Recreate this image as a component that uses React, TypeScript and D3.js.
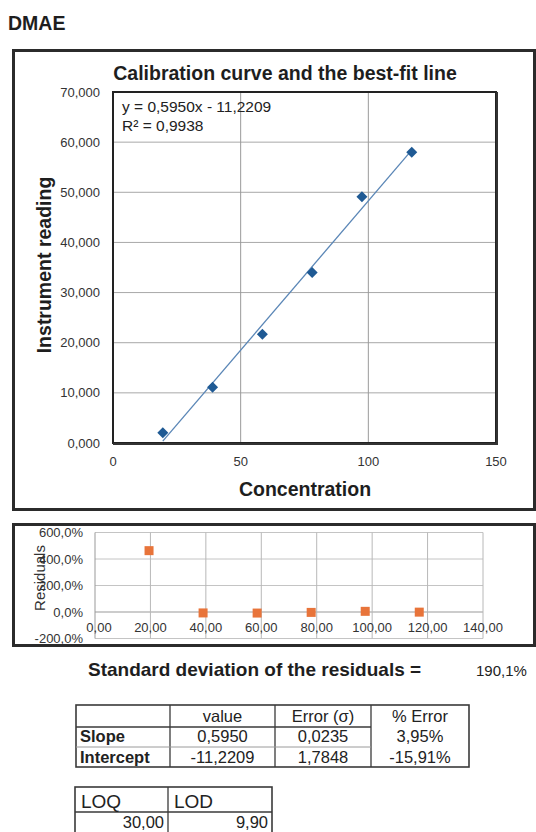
import React from "react";
import * as d3 from "d3";

// Calibration data for DMAE
const concentration = [19.5, 39, 58.5, 78, 97.5, 117];
const reading = [2.05, 11.1, 21.7, 34.0, 49.1, 58.0];
const residualPct = [463, -7, -8, -3, 5, -1];

// Least-squares fit results
const slope = 0.595;
const intercept = -11.2209;
const rSquared = 0.9938;

// Axis ticks
const readingTicks = [0, 10, 20, 30, 40, 50, 60, 70];
const concTicks = [0, 50, 100, 150];
const residualTicks = [-200, 0, 200, 400, 600];
const residualConcTicks = [0, 20, 40, 60, 80, 100, 120, 140];

// Summary tables
const stdResidual = "190,1%";
const fitHeader = ["", "value", "Error (σ)", "% Error"];
const fitLabels = ["Slope", "Intercept"];
const fitValues = ["0,5950", "-11,2209"];
const fitErrors = ["0,0235", "1,7848"];
const fitPctErrors = ["3,95%", "-15,91%"];
const limitHeader = ["LOQ", "LOD"];
const limitValues = ["30,00", "9,90"];

const locale = d3.formatLocale({
  decimal: ",",
  thousands: ".",
  grouping: [3],
  currency: ["", ""],
  minus: "-",
});
const f3 = locale.format(".3f");
const f4 = locale.format(".4f");
const f1 = locale.format(".1f");
const f2 = locale.format(".2f");

const FONT = "'Liberation Sans', Arial, Helvetica, sans-serif";
const INK = "#1e1e1e";

export default function App() {
  // main calibration plot
  const x = d3.scaleLinear().domain([0, 150]).range([113, 496]);
  const y = d3.scaleLinear().domain([0, 70]).range([443, 92]);
  // residual plot
  const rx = d3.scaleLinear().domain([0, 140]).range([95, 483]);
  const ry = d3.scaleLinear().domain([-200, 600]).range([638.5, 532.5]);

  const fitLine = d3
    .line<number>()
    .x((c) => x(c))
    .y((c) => y(slope * c + intercept));
  const lineX = [concentration[0], concentration[concentration.length - 1]];

  const diamond = (cx: number, cy: number, r: number) =>
    `M${cx},${cy - r}L${cx + r},${cy}L${cx},${cy + r}L${cx - r},${cy}Z`;

  const tCols = [76, 170, 275, 371, 469];
  const tRows = [705, 727, 747, 767];
  const lCols = [75, 168, 272];
  const lRows = [787, 812, 845];

  return (
    <div style={{ position: "absolute", left: 0, top: 0 }}>
      <svg width={536} height={832} style={{ display: "block", background: "#fff" }} fontFamily={FONT}>
        <text x={8} y={30} fontSize={19.5} fontWeight="bold" fill={INK}>DMAE</text>

        {/* calibration chart frame */}
        <rect x={13.5} y={50.5} width={521} height={459} fill="#fff" stroke="#2b2b2b" strokeWidth={3} />
        <text x={285} y={80} fontSize={19.5} fontWeight="bold" textAnchor="middle" fill={INK}>
          Calibration curve and the best-fit line
        </text>

        {/* gridlines */}
        {readingTicks.slice(1, -1).map((t) => (
          <line key={"hg" + t} x1={x(0)} x2={x(150)} y1={y(t)} y2={y(t)} stroke="#a8a8a8" strokeWidth={1} />
        ))}
        {concTicks.slice(1, -1).map((t) => (
          <line key={"vg" + t} x1={x(t)} x2={x(t)} y1={y(70)} y2={y(0)} stroke="#9a9a9a" strokeWidth={1} />
        ))}
        <rect x={x(0)} y={y(70)} width={x(150) - x(0)} height={y(0) - y(70)} fill="none" stroke="#222" strokeWidth={2} />
        <line x1={x(0)} x2={x(150) + 1.5} y1={y(0) + 1} y2={y(0) + 1} stroke="#333" strokeWidth={2} />
        <line x1={x(150) + 1} x2={x(150) + 1} y1={y(70)} y2={y(0) + 2} stroke="#333" strokeWidth={2} />

        {/* axis tick labels */}
        {readingTicks.map((t) => (
          <text key={"yl" + t} x={100} y={y(t) + 4.5} fontSize={13} textAnchor="end" fill="#333">
            {f3(t)}
          </text>
        ))}
        {concTicks.map((t) => (
          <text key={"xl" + t} x={x(t)} y={466} fontSize={13} textAnchor="middle" fill="#333">
            {t}
          </text>
        ))}
        <text x={305} y={496} fontSize={19.5} fontWeight="bold" textAnchor="middle" fill={INK}>
          Concentration
        </text>
        <text transform={`translate(51,265) rotate(-90)`} fontSize={19.5} fontWeight="bold" textAnchor="middle" fill={INK}>
          Instrument reading
        </text>

        {/* best-fit line and data */}
        <path d={fitLine(lineX) || ""} fill="none" stroke="#5a86b6" strokeWidth={1.3} />
        {concentration.map((c, i) => (
          <path key={"pt" + i} d={diamond(x(c), y(reading[i]), 5.5)} fill="#1f5a94" />
        ))}
        <text x={122} y={112} fontSize={15.5} fill="#222">
          {`y = ${f4(slope)}x - ${f4(-intercept)}`}
        </text>
        <text x={122} y={131} fontSize={15.5} fill="#222">
          {`R² = ${f4(rSquared)}`}
        </text>

        {/* residual chart frame */}
        <rect x={13.5} y={524.5} width={521} height={121} fill="#fff" stroke="#2b2b2b" strokeWidth={3} />
        {residualTicks.map((t) => (
          <line key={"rh" + t} x1={rx(0)} x2={rx(140)} y1={ry(t)} y2={ry(t)} stroke={t === 0 ? "#999" : "#c4c4c4"} strokeWidth={1} />
        ))}
        {residualConcTicks.map((t) => (
          <line key={"rv" + t} x1={rx(t)} x2={rx(t)} y1={ry(600)} y2={ry(-200)} stroke={t === 0 ? "#999" : "#b8b8b8"} strokeWidth={1} />
        ))}
        {residualTicks.map((t) => (
          <text key={"ryl" + t} x={83} y={ry(t) + 4.5} fontSize={13} textAnchor="end" fill="#333">
            {f1(t) + "%"}
          </text>
        ))}
        {residualConcTicks.map((t) => (
          <text key={"rxl" + t} x={rx(t) + (t === 0 ? 4 : 0)} y={631.5} fontSize={13} textAnchor="middle" fill="#333">
            {f2(t)}
          </text>
        ))}
        <text transform={`translate(45,578) rotate(-90)`} fontSize={15} textAnchor="middle" fill="#333">
          Residuals
        </text>
        {concentration.map((c, i) => (
          <rect key={"rs" + i} x={rx(c) - 4.5} y={ry(residualPct[i]) - 4.5} width={9} height={9} fill="#e8743a" />
        ))}

        {/* standard deviation of residuals */}
        <text x={88} y={676} fontSize={19} fontWeight="bold" fill={INK}>
          Standard deviation of the residuals =
        </text>
        <text x={476} y={676} fontSize={15} fill="#222">{stdResidual}</text>

        {/* fit parameter table */}
        <g stroke="#3a3a3a" strokeWidth={1.3}>
          <rect x={tCols[0]} y={tRows[0]} width={tCols[4] - tCols[0]} height={tRows[3] - tRows[0]} fill="none" strokeWidth={1.6} />
          {tCols.slice(1, 4).map((c) => (
            <line key={"tc" + c} x1={c} x2={c} y1={tRows[0]} y2={tRows[3]} />
          ))}
          <line x1={tCols[0]} x2={tCols[3]} y1={tRows[1]} y2={tRows[1]} />
          <line x1={tCols[0]} x2={tCols[3]} y1={tRows[2]} y2={tRows[2]} stroke="#9a9a9a" strokeWidth={1} />
        </g>
        {fitHeader.map((h, i) =>
          h ? (
            <text key={"th" + i} x={(tCols[i] + tCols[i + 1]) / 2} y={722} fontSize={16.5} textAnchor="middle" fill="#222">
              {h}
            </text>
          ) : null
        )}
        {fitLabels.map((l, r) => (
          <g key={"tr" + r} fontSize={16.5} fill="#222">
            <text x={tCols[0] + 4} y={742 + r * 21} fontWeight="bold">{l}</text>
            <text x={(tCols[1] + tCols[2]) / 2} y={742 + r * 21} textAnchor="middle">{fitValues[r]}</text>
            <text x={(tCols[2] + tCols[3]) / 2} y={742 + r * 21} textAnchor="middle">{fitErrors[r]}</text>
            <text x={(tCols[3] + tCols[4]) / 2} y={742 + r * 21} textAnchor="middle">{fitPctErrors[r]}</text>
          </g>
        ))}

        {/* detection limits table */}
        <g stroke="#3a3a3a" strokeWidth={1.3} fill="none">
          <rect x={lCols[0]} y={lRows[0]} width={lCols[2] - lCols[0]} height={lRows[2] - lRows[0]} strokeWidth={1.6} />
          <line x1={lCols[1]} x2={lCols[1]} y1={lRows[0]} y2={lRows[2]} />
          <line x1={lCols[0]} x2={lCols[2]} y1={lRows[1]} y2={lRows[1]} />
        </g>
        {limitHeader.map((h, i) => (
          <text key={"lh" + i} x={lCols[i] + 6} y={808} fontSize={19} fill="#222">{h}</text>
        ))}
        {limitValues.map((v, i) => (
          <text key={"lv" + i} x={lCols[i + 1] - 4} y={828} fontSize={16.5} textAnchor="end" fill="#222">{v}</text>
        ))}
      </svg>
    </div>
  );
}
